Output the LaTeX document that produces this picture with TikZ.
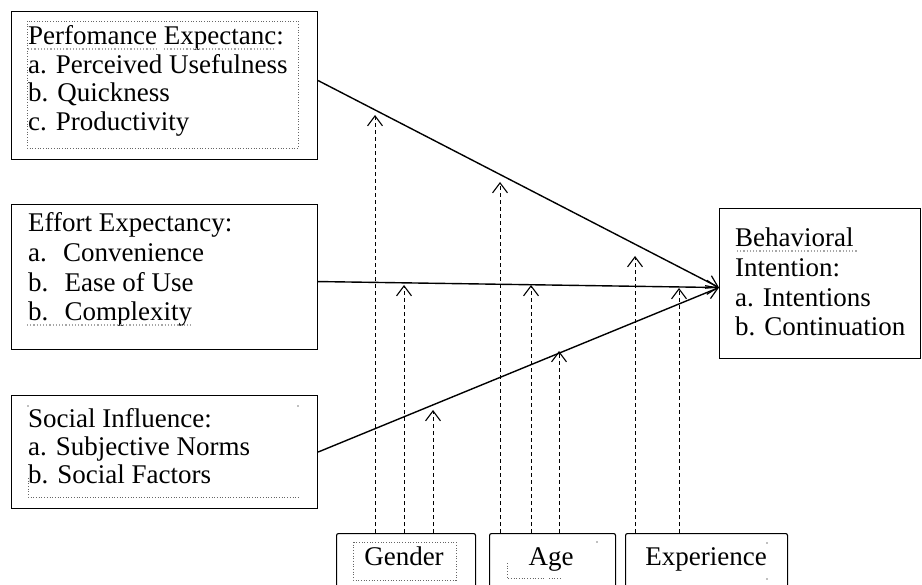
\documentclass[tikz,border=0pt]{standalone}
\usepackage{fontspec}
\setmainfont{Liberation Serif}
\usetikzlibrary{arrows.meta}
\begin{document}
\begin{tikzpicture}[x=1pt,y=-1pt,
  box/.style={draw=black, line width=1.1pt, anchor=north west, inner sep=0pt},
  bbox/.style={box, rounded corners=2pt},
  txt/.style={anchor=base west, align=left, inner sep=0pt, font=\fontsize{27}{28.5}\selectfont},
  ctxt/.style={anchor=base, inner sep=0pt, font=\fontsize{27}{28.5}\selectfont},
  main/.style={line width=1.4pt, -{Straight Barb[length=11pt,width=14pt,line width=1.2pt]}},
  dep/.style={line width=0.9pt, dash pattern=on 4pt off 3pt, -{Straight Barb[length=10pt,width=15pt,line width=1.1pt]}},
  dotline/.style={gray!80!black, line width=0.7pt, dotted},
  wavy/.style={gray!70, line width=1.2pt, dotted}
]
\clip (0,0) rectangle (922,585);
\fill[white] (0,0) rectangle (922,585);

% left boxes
\node[box, minimum width=306pt, minimum height=148pt] (b1) at (11,11) {};
\node[box, minimum width=306pt, minimum height=145pt] (b2) at (11,204) {};
\node[box, minimum width=306pt, minimum height=113pt] (b3) at (11,395) {};
% target box
\node[box, minimum width=201pt, minimum height=150pt] (bi) at (719,208) {};
% moderator boxes
\node[bbox, minimum width=139pt, minimum height=80pt] (gen) at (336,533) {};
\node[bbox, minimum width=126pt, minimum height=80pt] (age) at (489,533) {};
\node[bbox, minimum width=162pt, minimum height=80pt] (exp) at (625,533) {};

% texts (anchor = baseline of the last line)
\node[txt] (t1) at (28,130.5) {Perfomance Expectanc:\\a. Perceived Usefulness\\b. Quickness\\c. Productivity};
\node[txt, font=\fontsize{27}{29.7}\selectfont] (t2) at (28,321) {Effort Expectancy:\\a.\hspace{0.6em}Convenience\\b.\hspace{0.6em}Ease of Use\\b.\hspace{0.6em}Complexity};
\node[txt] (t3) at (28,484) {Social Influence:\\a. Subjective Norms\\b. Social Factors};
\node[txt, font=\fontsize{27}{29.7}\selectfont] (t4) at (735,336) {Behavioral\\Intention:\\a. Intentions\\b. Continuation};
\node[ctxt] (tg) at (404,565) {Gender};
\node[ctxt] (ta) at (551,565) {Age};
\node[ctxt] (te) at (706,565) {Experience};

% editor artefacts: dotted frames and spelling underlines
\draw[dotline] (27,21) rectangle (298,148);
\draw[dotline] (28,478) -- (28,497) -- (298,497);
\fill[gray] (28,406) circle (0.8pt) (298,406) circle (0.8pt);
\draw[dotline] (353,542) rectangle (456,580);
\draw[dotline] (507,563) -- (507,578) -- (545,578);
\draw[dotline] (549,578) -- (562,578);
\fill[gray] (597,542) circle (0.8pt) (767,543) circle (0.8pt) (767,579) circle (0.8pt);
\draw[wavy] (28,49) -- (157,49);
\draw[wavy] (164,49) -- (275,49);
\draw[wavy] (27,325) -- (193,325);
\draw[wavy] (737,251) -- (857,251);

% main paths
\draw[main] ([yshift=5pt]b1.east) -- ([yshift=-4pt]bi.west);
\draw[main] ([yshift=-4.5pt]b2.east) -- ([yshift=-4pt]bi.west);
\draw[main] (b3.east) -- ([yshift=-4pt]bi.west);

% moderator tips
\coordinate (g1) at (375,115);
\coordinate (g2) at (404,285);
\coordinate (g3) at (433,410);
\coordinate (a1) at (500,182);
\coordinate (a2) at (531,285);
\coordinate (a3) at (559,351);
\coordinate (e1) at (635,256);
\coordinate (e2) at (679,288);

\draw[dep] (g1 |- gen.north) -- (g1);
\draw[dep] (g2 |- gen.north) -- (g2);
\draw[dep] (g3 |- gen.north) -- (g3);
\draw[dep] (a1 |- age.north) -- (a1);
\draw[dep] (a2 |- age.north) -- (a2);
\draw[dep] (a3 |- age.north) -- (a3);
\draw[dep] (e1 |- exp.north) -- (e1);
\draw[dep] (e2 |- exp.north) -- (e2);
\end{tikzpicture}
\end{document}
